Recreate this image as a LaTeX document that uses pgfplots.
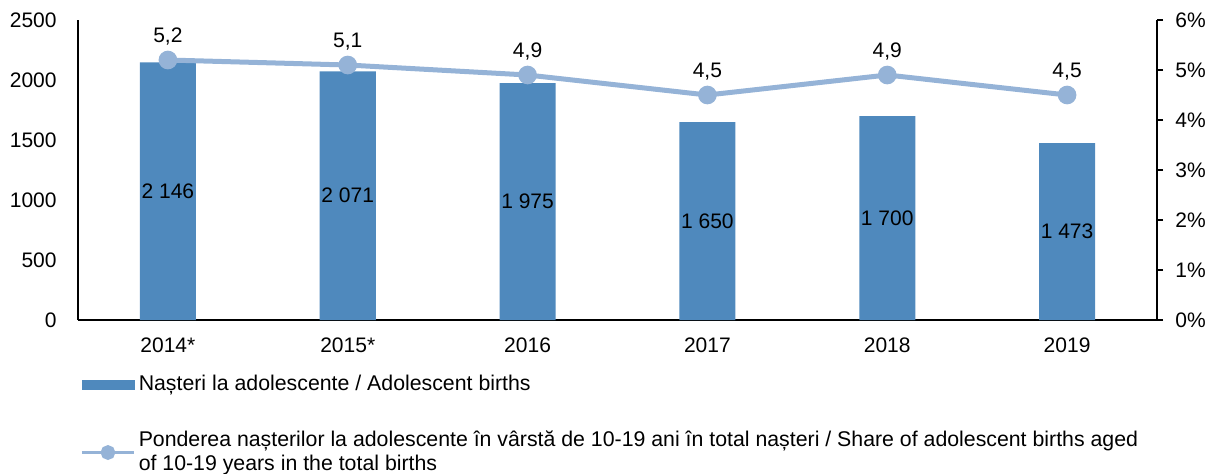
\documentclass[border=0pt]{standalone}
\usepackage{pgfplots}
\pgfplotsset{compat=1.18}
\usepackage{fontspec}
\setmainfont{Liberation Sans}
\definecolor{barblue}{RGB}{79,137,189}
\definecolor{lineblue}{RGB}{149,179,215}
\newcommand\cf{\fontsize{10.5}{12.2}\selectfont}
\newcommand\lf{\fontsize{10.65}{12.0}\selectfont}
\begin{document}
\cf
\begin{tikzpicture}
\useasboundingbox (-39pt,-76.5pt) rectangle (565.5pt,160pt);
\begin{axis}[
  at={(0pt,0pt)}, anchor=south west,
  scale only axis, width=539.5pt, height=150pt,
  xmin=-0.5, xmax=5.5, ymin=0, ymax=2500,
  axis y line*=left, axis x line*=bottom,
  axis line style={black, line width=0.8pt},
  xtick={0,...,5}, xticklabels={2014*,2015*,2016,2017,2018,2019},
  ytick={0,500,...,2500},
  major tick length=0pt,
  tick label style={font=\cf},
  /pgf/number format/assume math mode=true,
  /pgf/number format/1000 sep={},
  yticklabel style={xshift=-7pt},
  xticklabel style={yshift=-5pt},
  clip=false,
]
\addplot[ybar, bar width=28pt, fill=barblue, draw=none] coordinates {
 (0,2146) (1,2071) (2,1975) (3,1650) (4,1700) (5,1473)};
\addplot[draw=none, mark=none, nodes near coords, point meta=explicit symbolic,
  every node near coord/.style={anchor=center, black, font=\cf}]
 coordinates {
 (0,1073) [2 146] (1,1035.5) [2 071] (2,987.5) [1 975] (3,825) [1 650] (4,850) [1 700] (5,736.5) [1 473]};
\end{axis}
\begin{axis}[
  at={(0pt,0pt)}, anchor=south west,
  scale only axis, width=539.5pt, height=150pt,
  xmin=-0.5, xmax=5.5, ymin=0, ymax=6,
  axis y line*=right, axis x line=none,
  axis line style={black, line width=0.8pt},
  ytick={0,...,6}, yticklabels={0\%,1\%,2\%,3\%,4\%,5\%,6\%},
  tick align=outside, major tick length=3pt,
  tick style={black, line width=0.8pt},
  tick label style={font=\cf},
  yticklabel style={xshift=2.5pt},
  clip=false,
  legend style={at={(0.002,-0.175)}, anchor=north west, draw=none, fill=none,
    inner sep=0pt, outer sep=0pt, row sep=15.5pt,
    nodes={align=left, inner sep=1.5pt, font=\lf}},
  legend cell align=left,
]
\addlegendimage{legend image code/.code={\fill[barblue] (0pt,-2.1pt) rectangle (26pt,2.1pt);}}
\addlegendentry{Nașteri la adolescente / Adolescent births}
\addplot[lineblue, line width=2.5pt, mark=*, mark size=3.4pt,
  mark options={fill=lineblue, draw=none},
  nodes near coords, point meta=explicit symbolic,
  every node near coord/.style={anchor=center, yshift=11.5pt, black, font=\cf},
  legend image code/.code={\draw[lineblue, line width=1.8pt] (0pt,0pt) -- (26pt,0pt);
    \fill[lineblue] (13pt,0pt) circle (2.4pt);}]
 coordinates {(0,5.2) [5,2] (1,5.1) [5,1] (2,4.9) [4,9] (3,4.5) [4,5] (4,4.9) [4,9] (5,4.5) [4,5]};
\addlegendentry{Ponderea nașterilor la adolescente în vârstă de 10-19 ani în total nașteri / Share of adolescent births aged\\of 10-19 years in the total births}
\end{axis}
\end{tikzpicture}
\end{document}
